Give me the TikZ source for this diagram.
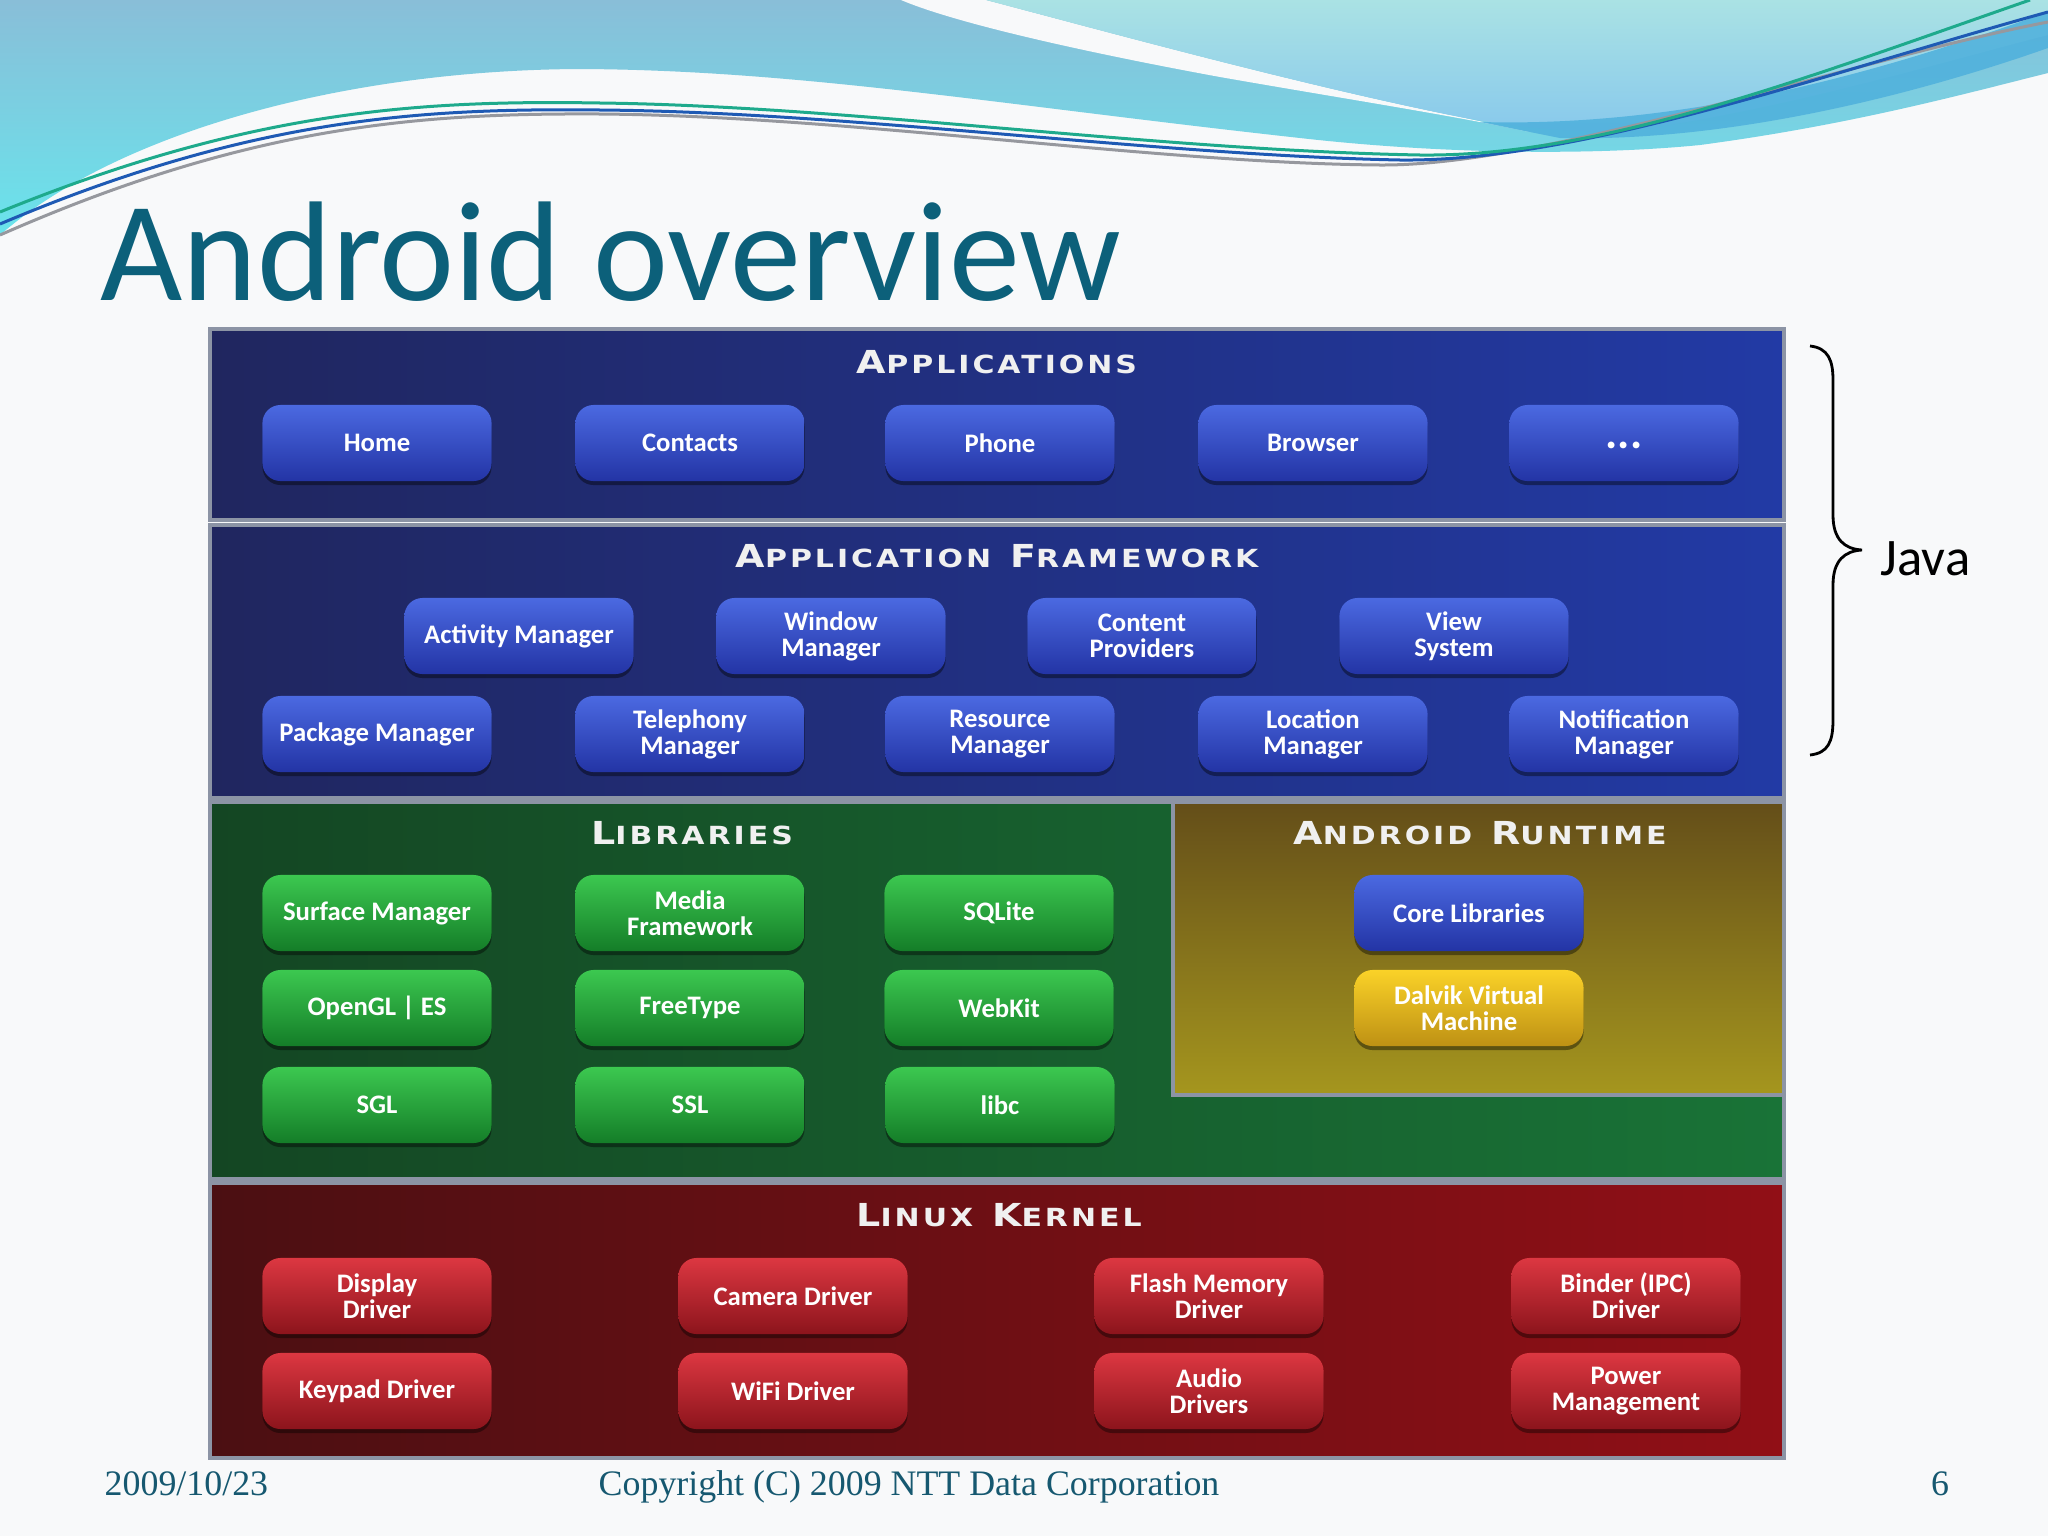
\documentclass[tikz,border=0pt]{standalone}
\usepackage{fontspec}
\setmainfont{Liberation Serif}
\newfontfamily\sansf{Carlito}
\newfontfamily\hdrfont[LetterSpace=12,FakeStretch=1.2]{DejaVu Sans}
\usetikzlibrary{shadows}
\definecolor{pagebg}{RGB}{248,249,250}
\definecolor{waveAtop}{RGB}{137,190,216}
\definecolor{waveAbot}{RGB}{105,228,236}
\definecolor{waveBtop}{RGB}{170,226,228}
\definecolor{waveBbot}{RGB}{135,200,236}
\definecolor{waveC}{RGB}{78,176,220}
\definecolor{lineteal}{RGB}{30,170,140}
\definecolor{lineblue}{RGB}{30,90,180}
\definecolor{linegray}{RGB}{150,152,158}
\definecolor{titlecol}{RGB}{12,96,122}
\definecolor{footcol}{RGB}{22,88,112}
\definecolor{panelborder}{RGB}{140,148,165}
\definecolor{navyL}{RGB}{32,38,95}
\definecolor{navyR}{RGB}{34,58,165}
\definecolor{greenL}{RGB}{20,70,35}
\definecolor{greenR}{RGB}{25,115,55}
\definecolor{rtTop}{RGB}{100,78,25}
\definecolor{rtBot}{RGB}{165,150,30}
\definecolor{kernL}{RGB}{75,15,18}
\definecolor{kernR}{RGB}{145,15,22}
\definecolor{bluetop}{RGB}{75,105,225}
\definecolor{bluebot}{RGB}{35,52,165}
\definecolor{greentop}{RGB}{60,200,80}
\definecolor{greenbot}{RGB}{20,125,40}
\definecolor{redtop}{RGB}{220,55,65}
\definecolor{redbot}{RGB}{140,20,28}
\definecolor{yeltop}{RGB}{250,210,40}
\definecolor{yelbot}{RGB}{190,145,20}
\definecolor{hdrcol}{RGB}{240,240,240}
\newcommand\btnfont{\sansf\bfseries\fontsize{7.6}{7.4}\selectfont}
\newcommand\hdr[2]{{\fontsize{9.0}{9}\selectfont #1}{\fontsize{7.1}{9}\selectfont #2}}
\tikzset{
  panel/.style={draw=panelborder, line width=0.04cm},
  hdrnode/.style={text=hdrcol, font=\hdrfont\bfseries, inner sep=0pt},
  btn/.style={rounded corners=0.18cm, minimum width=2.29cm, minimum height=0.76cm,
    inner sep=0pt, align=center, text=white, font=\btnfont,
    drop shadow={shadow xshift=0cm, shadow yshift=-0.04cm, opacity=0.4, fill=black}},
  bbtn/.style={btn, top color=bluetop, bottom color=bluebot},
  gbtn/.style={btn, top color=greentop, bottom color=greenbot},
  rbtn/.style={btn, top color=redtop, bottom color=redbot},
  ybtn/.style={btn, top color=yeltop, bottom color=yelbot},
  wline/.style={line width=0.03cm},
  foot/.style={inner sep=0pt, text=footcol, font=\fontsize{10.2}{12}\selectfont}
}
\begin{document}
\begin{tikzpicture}[x=0.01cm,y=-0.01cm]
\useasboundingbox (0,0) rectangle (2048,1536);
\fill[pagebg] (0,0) rectangle (2048,1536);
% background waves
\shade[top color=waveAtop, bottom color=waveAbot] (0,0) -- (2048,0) -- (2048,73)
  .. controls (1960,95) and (1850,125) .. (1700,145)
  .. controls (1600,155) and (1450,155) .. (1300,138)
  .. controls (1000,105) and (800,70) .. (580,69)
  .. controls (350,70) and (120,130) .. (0,235) -- cycle;
\fill[pagebg] (901,0) -- (986,0) .. controls (1100,30) and (1300,85) .. (1460,117)
  -- (1530,132) .. controls (1450,115) and (1340,98) .. (1220,77)
  .. controls (1100,55) and (960,25) .. (901,0) -- cycle;
\shade[top color=waveBtop, bottom color=waveBbot] (986,0) -- (2048,0) -- (2048,35)
  .. controls (1950,60) and (1800,105) .. (1650,128)
  .. controls (1600,135) and (1530,130) .. (1460,117)
  .. controls (1300,85) and (1100,30) .. (986,0) -- cycle;
\fill[waveC, opacity=0.85] (1480,122) .. controls (1700,128) and (1900,65) .. (2048,12)
  -- (2048,48) .. controls (1900,100) and (1720,142) .. (1560,138) -- cycle;
\draw[wline, linegray] (0,235) .. controls (250,125) and (420,113) .. (600,114)
  .. controls (850,116) and (1150,163) .. (1380,165)
  .. controls (1550,166) and (1850,60) .. (2048,22);
\draw[wline, lineblue] (0,224) .. controls (250,118) and (420,108) .. (600,110)
  .. controls (850,112) and (1150,155) .. (1400,160)
  .. controls (1580,162) and (1820,75) .. (2048,12);
\draw[wline, lineteal] (0,212) .. controls (250,110) and (420,100) .. (600,103)
  .. controls (850,106) and (1150,150) .. (1420,155)
  .. controls (1600,157) and (1800,80) .. (2030,0);
% title
\node[anchor=base west, inner sep=0pt, text=titlecol, font=\sansf\fontsize{40.4}{40}\selectfont] (title) at (100,300) {Android overview};
% panels
\shade[panel, left color=navyL, right color=navyR] (210,329) rectangle (1784,520);
\shade[panel, left color=navyL, right color=navyR] (210,525) rectangle (1784,798);
\shade[panel, left color=greenL, right color=greenR] (210,802) rectangle (1784,1179);
\shade[panel, top color=rtTop, bottom color=rtBot] (1173,802) rectangle (1784,1095);
\shade[panel, left color=kernL, right color=kernR] (210,1183) rectangle (1784,1458);
% headers
\node[hdrnode] (happ) at (997,362) {\hdr{A}{PPLICATIONS}};
\node[hdrnode] (hfw) at (997,556) {\hdr{A}{PPLICATION}\ \hdr{F}{RAMEWORK}};
\node[hdrnode] (hlib) at (692,833) {\hdr{L}{IBRARIES}};
\node[hdrnode] (hrt) at (1480,833) {\hdr{A}{NDROID}\ \hdr{R}{UNTIME}};
\node[hdrnode] (hker) at (999,1215) {\hdr{L}{INUX}\ \hdr{K}{ERNEL}};
% applications
\node[bbtn] (home) at (377,443) {Home};
\node[bbtn] (contacts) at (690,443) {Contacts};
\node[bbtn] (phone) at (1000,443) {Phone};
\node[bbtn] (browser) at (1313,443) {Browser};
\node[bbtn] (more) at (1624,443) {\raisebox{-3pt}{\fontsize{13}{13}\selectfont\bfseries ...}};
% framework
\node[bbtn] (actm) at (519,636) {Activity Manager};
\node[bbtn] (winm) at (831,636) {Window\\Manager};
\node[bbtn] (cprov) at (1142,636) {Content\\Providers};
\node[bbtn] (views) at (1454,636) {View\\System};
\node[bbtn] (pkgm) at (377,734) {Package Manager};
\node[bbtn] (telm) at (690,734) {Telephony\\Manager};
\node[bbtn] (resm) at (1000,734) {Resource\\Manager};
\node[bbtn] (locm) at (1313,734) {Location\\Manager};
\node[bbtn] (notm) at (1624,734) {Notification\\Manager};
% libraries
\node[gbtn] (surf) at (377,913) {Surface Manager};
\node[gbtn] (media) at (690,913) {Media\\Framework};
\node[gbtn] (sqlite) at (999,913) {SQLite};
\node[gbtn] (opengl) at (377,1008) {OpenGL | ES};
\node[gbtn] (freetype) at (690,1008) {FreeType};
\node[gbtn] (webkit) at (999,1008) {WebKit};
\node[gbtn] (sgl) at (377,1105) {SGL};
\node[gbtn] (ssl) at (690,1105) {SSL};
\node[gbtn] (libc) at (1000,1105) {libc};
% runtime
\node[bbtn] (corelib) at (1469,913) {Core Libraries};
\node[ybtn] (dalvik) at (1469,1008) {Dalvik Virtual\\Machine};
% kernel
\node[rbtn] (disp) at (377,1296) {Display\\Driver};
\node[rbtn] (cam) at (793,1296) {Camera Driver};
\node[rbtn] (flash) at (1209,1296) {Flash Memory\\Driver};
\node[rbtn] (binder) at (1626,1296) {Binder (IPC)\\Driver};
\node[rbtn] (keypad) at (377,1391) {Keypad Driver};
\node[rbtn] (wifi) at (793,1391) {WiFi Driver};
\node[rbtn] (audio) at (1209,1391) {Audio\\Drivers};
\node[rbtn] (power) at (1626,1391) {Power\\Management};
% brace and Java
\draw[line width=0.028cm, black] (1810,346) .. controls (1828,348) and (1833,360) .. (1833,380)
  -- (1833,515) .. controls (1833,540) and (1845,549) .. (1862,550)
  .. controls (1845,551) and (1833,560) .. (1833,585)
  -- (1833,720) .. controls (1833,742) and (1828,753) .. (1810,755);
\node[anchor=base west, inner sep=0pt, font=\sansf\fontsize{15}{15}\selectfont] (java) at (1880,575) {Java};
% footer
\node[foot, anchor=base west] (date) at (104,1495) {2009/10/23};
\node[foot, anchor=base west] (copy) at (598,1495) {Copyright (C) 2009 NTT Data Corporation};
\node[foot, anchor=base] (pagenum) at (1940,1495) {6};
\end{tikzpicture}
\end{document}
